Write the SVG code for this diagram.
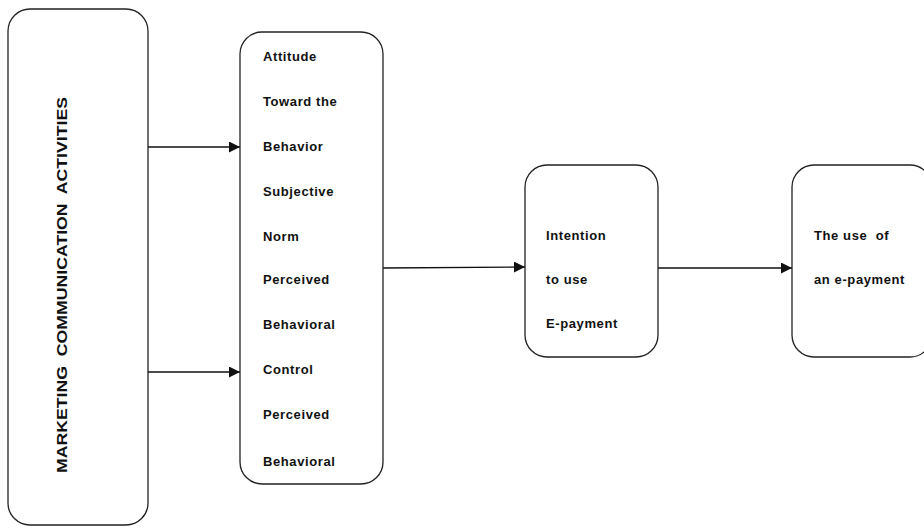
<svg xmlns="http://www.w3.org/2000/svg" width="924" height="528" viewBox="0 0 924 528">
<style>
.box{fill:#fff;stroke:#222;stroke-width:1.3}
.t{font-family:"Liberation Sans",Arial,sans-serif;font-weight:bold;font-size:13px;fill:#111;letter-spacing:0.6px}
.c{stroke:#111;stroke-width:1.3;fill:none;marker-end:url(#ah)}
</style>
<defs>
<marker id="ah" viewBox="0 0 10 10" refX="10" refY="5" markerWidth="11" markerHeight="11" markerUnits="userSpaceOnUse" orient="auto">
<path d="M0,0 L10,5 L0,10 z" fill="#111"/>
</marker>
</defs>
<rect width="924" height="528" fill="#fff"/>
<g id="connectors">
<line class="c" x1="148" y1="147" x2="240" y2="147"/>
<line class="c" x1="148" y1="372" x2="240" y2="372"/>
<line class="c" x1="383" y1="268" x2="525" y2="267"/>
<line class="c" x1="658" y1="268" x2="792" y2="268"/>
</g>
<g id="marketing">
<rect class="box" x="8" y="9" width="140" height="516" rx="22"/>
<text class="t" xml:space="preserve" transform="translate(67,285) rotate(-90)" text-anchor="middle" style="font-size:14px;letter-spacing:0" textLength="376" lengthAdjust="spacingAndGlyphs">MARKETING  COMMUNICATION  ACTIVITIES</text>
</g>
<g id="attitudes">
<rect class="box" x="240" y="32" width="143" height="452" rx="22"/>
<text class="t" x="263" y="61">Attitude</text>
<text class="t" x="263" y="106">Toward the</text>
<text class="t" x="263" y="151">Behavior</text>
<text class="t" x="263" y="196">Subjective</text>
<text class="t" x="263" y="241">Norm</text>
<text class="t" x="263" y="284">Perceived</text>
<text class="t" x="263" y="329">Behavioral</text>
<text class="t" x="263" y="374">Control</text>
<text class="t" x="263" y="419">Perceived</text>
<text class="t" x="263" y="466">Behavioral</text>
</g>
<g id="intention">
<rect class="box" x="525" y="165" width="133" height="192" rx="22"/>
<text class="t" x="546" y="240">Intention</text>
<text class="t" x="546" y="284">to use</text>
<text class="t" x="546" y="328">E-payment</text>
</g>
<g id="use">
<rect class="box" x="792" y="165" width="140" height="192" rx="22"/>
<text class="t" xml:space="preserve" x="814" y="240">The use  of</text>
<text class="t" x="814" y="284">an e-payment</text>
</g>
</svg>
